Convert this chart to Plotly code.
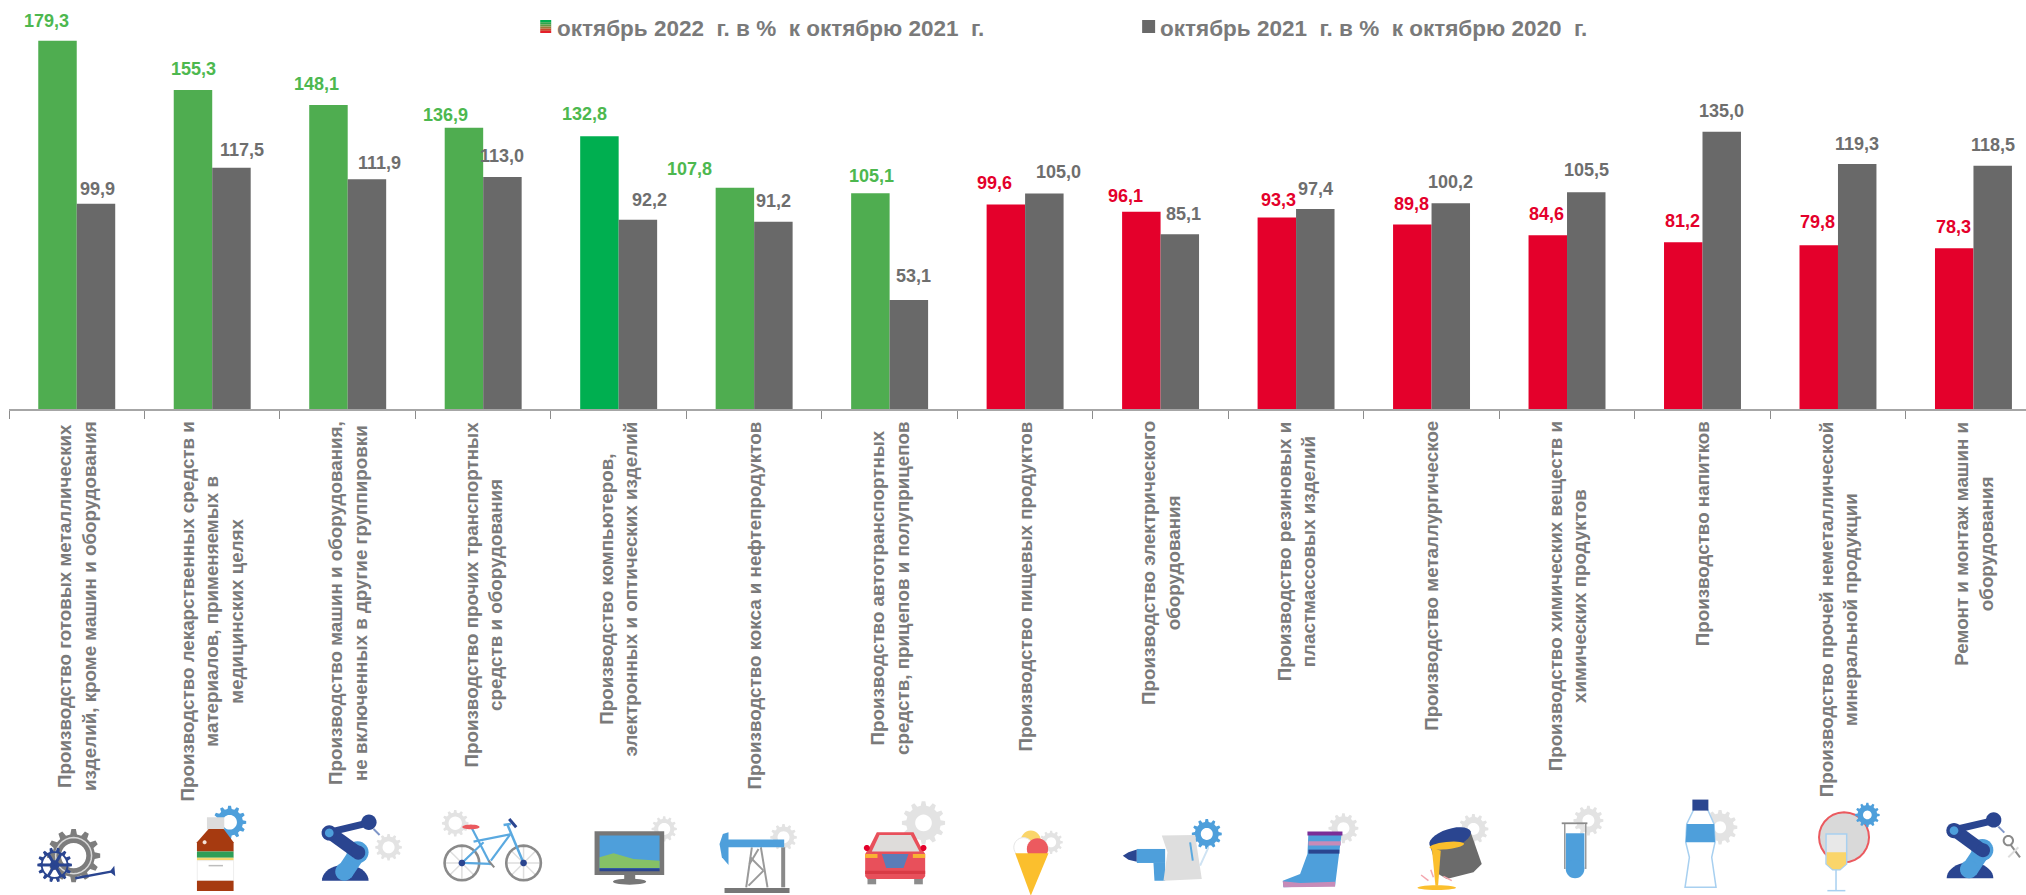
import math
import plotly.graph_objects as go

categories = [
    "Производство готовых металлических<br>изделий, кроме машин и оборудования",
    "Производство лекарственных средств и<br>материалов, применяемых в<br>медицинских целях",
    "Производство машин и оборудования,<br>не включенных в другие группировки",
    "Производство прочих транспортных<br>средств и оборудования",
    "Производство компьютеров,<br>электронных и оптических изделий",
    "Производство кокса и нефтепродуктов",
    "Производство автотранспортных<br>средств, прицепов и полуприцепов",
    "Производство пищевых продуктов",
    "Производство электрического<br>оборудования",
    "Производство резиновых и<br>пластмассовых изделий",
    "Производство металлургическое",
    "Производство химических веществ и<br>химических продуктов",
    "Производство напитков",
    "Производство прочей неметаллической<br>минеральной продукции",
    "Ремонт и монтаж машин и<br>оборудования",
]
series_2022 = [179.3, 155.3, 148.1, 136.9, 132.8, 107.8, 105.1, 99.6, 96.1, 93.3, 89.8, 84.6, 81.2, 79.8, 78.3]
series_2021 = [99.9, 117.5, 111.9, 113.0, 92.2, 91.2, 53.1, 105.0, 85.1, 97.4, 100.2, 105.5, 135.0, 119.3, 118.5]
name_2022 = "октябрь 2022  г. в %  к октябрю 2021  г."
name_2021 = "октябрь 2021  г. в %  к октябрю 2020  г."

# label nudges (px)
dx_2022 = [-11, 1, -12, -18, -15, -45, 1, -11, -16, 2, -1, -1, -1, -1, -1]
dy_2022 = [20, 21, 21, 13, 22, 19, 17, 21, 16, 17, 21, 21, 21, 23, 21]
dx_2021 = [1, 10, 12, 0, 12, 0, 5, 14, 4, 0, 0, 0, 0, 0, 0]
dy_2021 = [15, 18, 16, 21, 20, 21, 24, 21, 20, 20, 21, 22, 21, 20, 21]

W, H = 2026, 895
BASE, LEFT, BAND = 408.7, 8.7, 135.5
GREEN, GREEN2, RED, GRAY = "#4FAD50", "#00AF50", "#E4002B", "#696969"
LBL_GREEN, LBL_GRAY = "#4DB84F", "#6E6E6E"
TXT = "#7A7A7A"
FONT = "Liberation Sans"


def bar_color(i, v):
    if i == 4:
        return GREEN2
    return GREEN if v >= 100 else RED


fig = go.Figure()
fig.add_bar(x=categories, y=series_2022, name=name_2022,
            marker=dict(color=[bar_color(i, v) for i, v in enumerate(series_2022)], line_width=0))
fig.add_bar(x=categories, y=series_2021, name=name_2021,
            marker=dict(color=GRAY, line_width=0))

ann = []
for i, v in enumerate(series_2022):
    ann.append(dict(x=i - 0.1425, y=v, xref="x", yref="y", text=f"{v:.1f}".replace(".", ","),
                    showarrow=False, xanchor="center", yanchor="middle",
                    xshift=dx_2022[i], yshift=dy_2022[i],
                    font=dict(family=FONT, size=18, color=LBL_GREEN if v >= 100 else RED, weight="bold")))
for i, v in enumerate(series_2021):
    ann.append(dict(x=i + 0.1425, y=v, xref="x", yref="y", text=f"{v:.1f}".replace(".", ","),
                    showarrow=False, xanchor="center", yanchor="middle",
                    xshift=dx_2021[i], yshift=dy_2021[i],
                    font=dict(family=FONT, size=18, color=LBL_GRAY, weight="bold")))
for i, c in enumerate(categories):
    ann.append(dict(x=i, y=(BASE - 419) / BASE, xref="x", yref="paper", text=c, textangle=-90,
                    showarrow=False, xanchor="center", yanchor="top", align="center",
                    font=dict(family=FONT, size=18.8, color=TXT, weight="bold")))


def px_x(x):
    return (x - LEFT) / (W - LEFT)


def px_y(y):
    return (BASE - y) / BASE


for tx, name in ((555, name_2022), (1158, name_2021)):
    ann.append(dict(x=px_x(tx), y=px_y(28), xref="paper", yref="paper", text=name, showarrow=False,
                    xanchor="left", yanchor="middle",
                    font=dict(family=FONT, size=22.5, color=TXT, weight="bold")))

shapes = []
OX = 0


def _xy(p):
    return f"{px_x(OX + p[0] / 3):.5f},{px_y(785 + p[1] / 3):.5f}"


def poly(pts, fill="rgba(0,0,0,0)", line=None, lw=0, close=True):
    d = "M" + "L".join(_xy(p) for p in pts) + ("Z" if close else "")
    shapes.append(dict(type="path", path=d, xref="paper", yref="paper", fillcolor=fill, layer="above",
                       line=dict(color=line or "rgba(0,0,0,0)", width=lw)))


def ring(cx, cy, rx, ry=None, rot=0, n=28, a0=0.0, a1=2 * math.pi):
    ry = rx if ry is None else ry
    c, s = math.cos(math.radians(rot)), math.sin(math.radians(rot))
    out = []
    for k in range(n):
        a = a0 + (a1 - a0) * k / n
        x, y = rx * math.cos(a), ry * math.sin(a)
        out.append((cx + x * c - y * s, cy + x * s + y * c))
    return out


def ell(cx, cy, rx, ry=None, fill="#000", rot=0, line=None, lw=0):
    poly(ring(cx, cy, rx, ry, rot), fill, line, lw)


def rect(x0, y0, x1, y1, fill):
    poly([(x0, y0), (x1, y0), (x1, y1), (x0, y1)], fill)


def seg(x0, y0, x1, y1, color, w):
    poly([(x0, y0), (x1, y1)], line=color, lw=w, close=False)


def gear(cx, cy, r, hole, color, teeth=12):
    pts = []
    inner = r * 0.8
    for k in range(teeth):
        a = 2 * math.pi * k / teeth
        st = 2 * math.pi / teeth
        for off, rad in ((-0.3, inner), (-0.16, r), (0.16, r), (0.3, inner)):
            t = a + off * st
            pts.append((cx + rad * math.cos(t), cy + rad * math.sin(t)))
    d = "M" + "L".join(_xy(p) for p in pts) + "Z"
    d += "M" + "L".join(_xy(p) for p in ring(cx, cy, hole)) + "Z"
    shapes.append(dict(type="path", path=d, xref="paper", yref="paper", fillcolor=color, layer="above",
                       line=dict(color="rgba(0,0,0,0)", width=0)))


LG, DB, LB = "#E3E3E3", "#2A4590", "#4E9FDB"


def robot(dx, dy):
    poly(ring(975 + dx, 285 + dy, 70, 48, a0=math.pi, a1=2 * math.pi, n=20) + [(1045 + dx, 285 + dy)], DB)
    seg(1010 + dx, 205 + dy, 972 + dx, 262 + dy, LB, 17)
    ell(1012 + dx, 200 + dy, 33, None, LB)
    ell(972 + dx, 258 + dy, 27, None, LB)
    seg(930 + dx, 142 + dy, 1010 + dx, 200 + dy, DB, 13)
    ell(1014 + dx, 201 + dy, 21, None, DB)
    seg(935 + dx, 138 + dy, 1045 + dx, 112 + dy, DB, 7)
    ell(927 + dx, 142 + dy, 23, None, DB)
    ell(927 + dx, 142 + dy, 13, None, LB)
    ell(1046 + dx, 110 + dy, 23, None, DB)
    seg(1060 + dx, 130 + dy, 1078 + dx, 148 + dy, "#7F96C8", 2)


# --- icons, positions in 3x crop coordinates ---
OX = 20
gear(160, 210, 80, 38, "#7D7D7D", 12)
poly(ring(160, 210, 54), line="#D8D8D8", lw=1.5)
seg(165, 278, 272, 258, DB, 2.5)
poly([(268, 258), (282, 240), (285, 272)], DB)
gear(103, 238, 52, 36, DB, 14)
ell(103, 238, 14, None, DB)
for a in range(0, 360, 60):
    seg(103, 238, 103 + 38 * math.cos(math.radians(a)), 238 + 38 * math.sin(math.radians(a)), DB, 3)

gear(628, 110, 50, 22, LB, 12)
rect(560, 95, 612, 132, "#DCDCDC")
poly([(565, 130), (610, 130), (640, 170), (640, 198), (530, 198), (530, 170)], "#A63A10")
rect(530, 198, 640, 216, "#2E9E57")
rect(530, 216, 640, 225, "#F5D76E")
poly([(531, 225), (640, 225), (640, 285), (531, 285)], "#FFFFFF", "#EEEEEE", 1)
seg(565, 240, 608, 240, "#BDBDBD", 1.5)
rect(530, 285, 640, 316, "#A63A10")
ell(553, 170, 6, None, "#F4E3DA")

robot(0, 0)
gear(1105, 185, 40, 18, LG, 12)

OX = 420
gear(105, 113, 40, 20, LG, 12)
for cx in (125, 310):
    for a in range(0, 180, 45):
        ca, sa = math.cos(math.radians(a)), math.sin(math.radians(a))
        seg(cx - 50 * ca, 232 - 50 * sa, cx + 50 * ca, 232 + 50 * sa, "#DEDEDE", 1.5)
    poly(ring(cx, 232, 52), line="#8A8A8A", lw=2.6)
FR = "#5AA9E0"
seg(155, 128, 212, 238, FR, 2.2)
seg(160, 168, 270, 146, FR, 2.2)
seg(270, 146, 212, 225, FR, 2.2)
seg(125, 232, 212, 235, FR, 2.2)
seg(125, 232, 190, 170, FR, 2.2)
seg(262, 118, 310, 232, FR, 2.5)
seg(250, 118, 272, 115, FR, 2.5)
seg(267, 100, 288, 125, DB, 3)
ell(152, 124, 26, 7, "#EB5A5F")
ell(125, 232, 10, None, DB)
ell(310, 232, 10, None, DB)
seg(205, 225, 222, 245, "#888888", 2)

gear(732, 130, 38, 18, LG, 12)
rect(523, 137, 732, 268, "#777777")
rect(538, 150, 718, 250, LB)
poly([(538, 215), (580, 203), (640, 220), (718, 225), (718, 247), (538, 247)], "#86C166")
rect(538, 248, 718, 257, DB)
rect(612, 268, 645, 285, "#777777")
ell(628, 288, 50, 9, "#777777")

gear(1090, 155, 40, 18, LG, 12)
for p in ((995, 185, 978, 305), (1022, 185, 1042, 305), (990, 215, 1030, 255), (1030, 255, 985, 300),
          (1015, 190, 988, 235)):
    seg(*p, "#9A9A9A", 2)
rect(1083, 185, 1095, 305, "#8A8A8A")
rect(913, 307, 1108, 322, "#777777")
rect(920, 162, 1092, 185, LB)
poly([(925, 140), (908, 145), (898, 175), (905, 215), (925, 238)], LB)

OX = 820
gear(310, 112, 65, 25, LG, 12)
rect(142, 280, 168, 296, "#8C8C8C")
rect(282, 280, 308, 296, "#8C8C8C")
poly([(170, 140), (280, 140), (300, 180), (315, 205), (315, 272), (308, 280), (142, 280), (135, 272), (135, 205),
      (150, 180)], "#E8505B")
poly([(155, 198), (178, 148), (272, 148), (298, 198)], "#DEDCDA")
rect(135, 205, 172, 217, "#F9B233")
rect(278, 205, 315, 217, "#F9B233")
poly([(185, 205), (265, 205), (250, 247), (198, 247)], "#5B7DB8")
rect(135, 255, 315, 265, "#D93A45")
ell(140, 187, 9, None, RED)
ell(310, 187, 9, None, RED)

gear(693, 170, 35, 15, LG, 12)
ell(632, 165, 30, None, "#FAD56A")
ell(610, 185, 29, None, "#FFFFFF", line="#E6E6E6", lw=1)
ell(652, 190, 32, None, "#EC5A5F")
poly([(585, 203), (685, 203), (632, 330)], "#FBBF2D")

gear(1160, 145, 45, 18, LB, 12)
poly([(908, 210), (925, 200), (950, 192), (950, 228), (925, 222)], DB)
rect(950, 190, 1035, 232, LB)
poly([(1000, 232), (1035, 232), (1035, 285), (1003, 285)], LB)
poly([(1025, 150), (1125, 148), (1145, 280), (1030, 285), (1042, 200)], "#DEDEDE")
seg(1110, 170, 1118, 225, "#5AA9E0", 2)
seg(1140, 240, 1165, 185, "#CFE3F3", 2)

OX = 1220
gear(370, 128, 45, 18, LG, 12)
poly([(265, 140), (365, 140), (345, 300), (190, 305), (188, 285), (240, 265), (262, 205)], LB)
rect(262, 138, 367, 150, "#7A2E97")
rect(265, 167, 362, 180, "#C78BB8")
rect(265, 192, 358, 204, DB)
poly([(188, 287), (240, 292), (345, 288), (345, 303), (190, 305)], "#C78BB8")

gear(760, 130, 45, 18, LG, 12)
poly([(630, 180), (750, 135), (785, 235), (760, 260), (680, 280), (655, 265)], "#6B6B6B")
ell(690, 158, 65, 28, DB, rot=-18)
ell(680, 180, 52, 11, "#FBBF2D", rot=-6)
poly([(635, 185), (662, 195), (654, 300), (646, 300)], "#FBBF2D")
ell(650, 306, 58, 7, "#FBBF2D")
for p in ((603, 268, 625, 285), (632, 252, 640, 275), (670, 272, 695, 285)):
    seg(*p, "#F4A6AE", 1.5)

gear(1105, 105, 45, 18, LG, 12)
rect(1037, 143, 1093, 250, LB)
ell(1065, 250, 28, None, LB)
seg(1034, 113, 1034, 250, "#9A9A9A", 1.5)
seg(1097, 113, 1097, 250, "#9A9A9A", 1.5)
seg(1025, 113, 1102, 113, "#8A8A8A", 1.8)

OX = 1620
gear(300, 125, 52, 18, LG, 12)
poly([(222, 70), (262, 70), (282, 115), (285, 170), (275, 215), (288, 305), (195, 305), (208, 215), (197, 170),
      (200, 115)], "#FFFFFF", "#A8D0F0", 1.5)
poly([(200, 115), (282, 115), (285, 170), (197, 170)], LB)
rect(217, 42, 265, 75, DB)

ell(672, 155, 75, None, "#D9D9D9", line="#EB5A5F", lw=2)
gear(742, 88, 37, 13, LB, 12)
poly([(618, 145), (680, 145), (680, 235), (660, 252), (638, 252), (618, 235)], "#E8E8E8", "#A8D0F0", 1.5)
poly([(620, 200), (678, 200), (678, 235), (660, 251), (638, 251), (620, 235)], "#FAD56A")
seg(648, 252, 648, 315, "#A8D0F0", 1.5)
seg(622, 315, 676, 315, "#A8D0F0", 1.5)

robot(75, -7)
poly(ring(1165, 165, 14), line="#8A8A8A", lw=2)
seg(1172, 178, 1200, 215, "#8A8A8A", 2)
seg(1165, 215, 1195, 185, "#DDDDDD", 2)

# --- legend swatches ---
OX = 0
for k, col in enumerate(("#00AF50", "#2EA64C", "#5F9A45", "#9A7A3A", "#C84A2C", "#E4202B")):
    y0 = 20 + k * 13 / 6
    rect(540 * 3, y0 * 3 - 785 * 3, 551 * 3, (y0 + 13 / 6) * 3 - 785 * 3, col)
rect(1142 * 3, 20 * 3 - 785 * 3, 1155 * 3, 33 * 3 - 785 * 3, GRAY)

fig.update_layout(
    width=W, height=H, autosize=False,
    margin=dict(l=LEFT, r=0, t=0, b=H - BASE, pad=0),
    paper_bgcolor="white", plot_bgcolor="white",
    barmode="group", bargap=0.432, bargroupgap=0, showlegend=False,
    annotations=ann, shapes=shapes,
    font=dict(family=FONT),
    xaxis=dict(type="category", range=[-0.5, -0.5 + (W - LEFT) / BAND], tickson="boundaries",
               ticks="outside", ticklen=8, tickwidth=1, tickcolor="#8C8C8C",
               showline=True, linecolor="#A6A6A6", linewidth=2, showticklabels=False, showgrid=False,
               zeroline=False),
    yaxis=dict(range=[0, BASE / 2.052], visible=False, showgrid=False, zeroline=False),
)
fig.write_html("out.html", config=dict(displayModeBar=False),
               post_script="document.body.style.margin='0';document.body.style.overflow='hidden';")
